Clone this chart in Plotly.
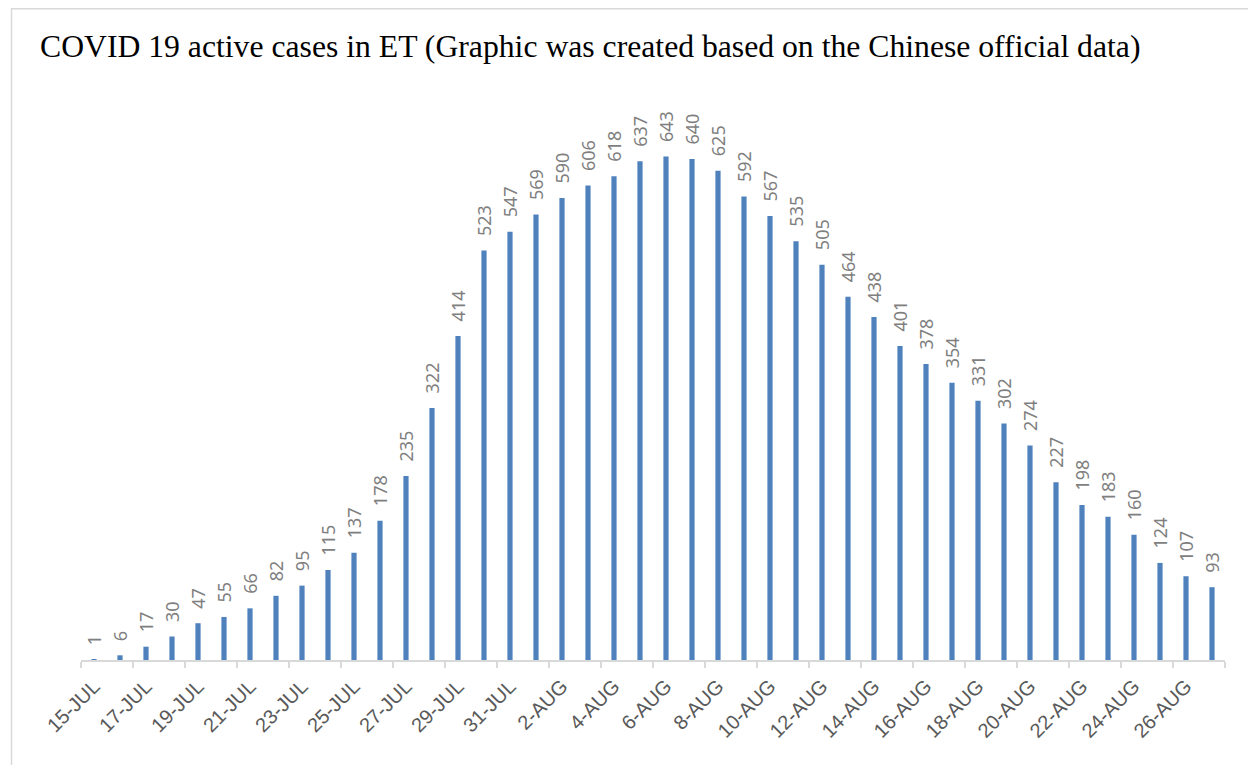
import plotly.graph_objects as go

dates = ["15-JUL", "16-JUL", "17-JUL", "18-JUL", "19-JUL", "20-JUL", "21-JUL", "22-JUL",
         "23-JUL", "24-JUL", "25-JUL", "26-JUL", "27-JUL", "28-JUL", "29-JUL", "30-JUL",
         "31-JUL", "1-AUG", "2-AUG", "3-AUG", "4-AUG", "5-AUG", "6-AUG", "7-AUG",
         "8-AUG", "9-AUG", "10-AUG", "11-AUG", "12-AUG", "13-AUG", "14-AUG", "15-AUG",
         "16-AUG", "17-AUG", "18-AUG", "19-AUG", "20-AUG", "21-AUG", "22-AUG", "23-AUG",
         "24-AUG", "25-AUG", "26-AUG", "27-AUG"]
active_cases = [1, 6, 17, 30, 47, 55, 66, 82, 95, 115, 137, 178, 235, 322, 414, 523,
                547, 569, 590, 606, 618, 637, 643, 640, 625, 592, 567, 535, 505, 464,
                438, 401, 378, 354, 331, 302, 274, 227, 198, 183, 160, 124, 107, 93]
label_step = 2  # every other date is labelled

title_text = "COVID 19 active cases in ET (Graphic was created based on the Chinese official data)"

# page has an 8px body margin, so the figure is 8px smaller than the window
W, H = 1248, 757
ML, MR, MT, MB = 73, 31, 104, 105

fig = go.Figure()
fig.add_trace(go.Bar(
    x=dates, y=active_cases,
    marker=dict(color="#4f81bd", line=dict(width=0)),
    width=0.2,
    hoverinfo="x+y",
))

for d, v in zip(dates, active_cases):
    fig.add_annotation(
        x=d, y=v, text=str(v), textangle=-90, showarrow=False,
        yanchor="bottom", xanchor="center", yshift=12,
        font=dict(family="Noto Sans", size=18, color="#7f7f7f"),
    )

pw = W - ML - MR
ph = H - MT - MB
fig.add_shape(
    type="rect", xref="paper", yref="paper",
    x0=(3.5 - ML) / pw, x1=(W + 20 - ML) / pw,
    y0=-(MB + 20) / ph, y1=1 + (MT - 0.75) / ph,
    line=dict(color="#d9d9d9", width=1.5), fillcolor="rgba(0,0,0,0)",
    layer="below",
)

fig.update_layout(
    width=W, height=H,
    margin=dict(l=ML, r=MR, t=MT, b=MB, autoexpand=False),
    paper_bgcolor="white", plot_bgcolor="white",
    showlegend=False,
    title=dict(
        text=title_text,
        font=dict(family="Liberation Serif", size=31.7, color="black"),
        x=32 / W, xanchor="left", xref="container",
        y=1 - 38 / H, yanchor="middle", yref="container",
        pad=dict(l=0, r=0, t=0, b=0),
    ),
    xaxis=dict(
        type="category",
        tickmode="linear", tick0=0, dtick=label_step,
        tickson="boundaries",
        ticks="outside", ticklen=6, tickcolor="#d9d9d9", tickwidth=1.5,
        showline=True, linecolor="#d9d9d9", linewidth=1.5,
        showgrid=False, zeroline=False,
        tickangle=-45,
        ticklabelstandoff=5,
        automargin=False,
        tickfont=dict(family="Liberation Sans", size=20, color="#595959"),
        range=[-0.5, len(dates) - 0.5],
    ),
    yaxis=dict(range=[0, 700], visible=False, showgrid=False, automargin=False),
    bargap=0.8,
)

fig.write_html("out.html")
